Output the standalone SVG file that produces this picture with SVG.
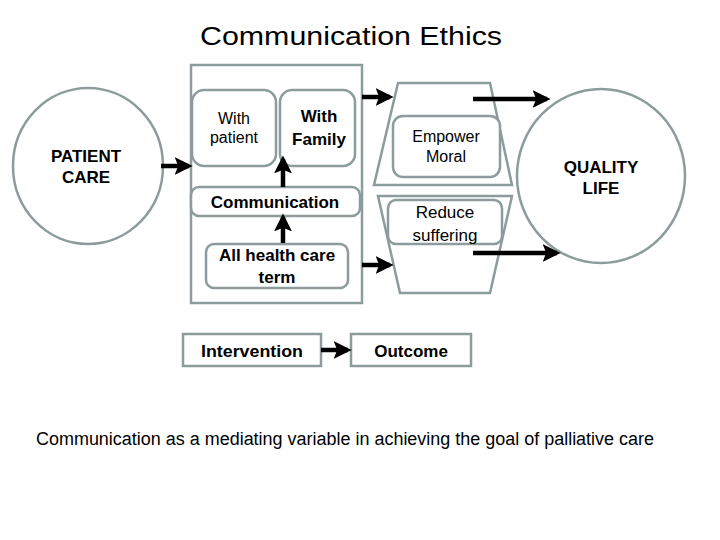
<svg xmlns="http://www.w3.org/2000/svg" width="720" height="540" viewBox="0 0 720 540">
<defs>
<marker id="ah" markerWidth="4" markerHeight="4" refX="3.2" refY="2" orient="auto" markerUnits="strokeWidth"><path d="M0,0 L4,2 L0,4 L0.8,2 Z" fill="#000"/></marker>
<style>
.s{fill:#fff;stroke:#8c9c9c;stroke-width:2.5}
.t{font-family:"Liberation Sans",Arial,sans-serif;fill:#000;text-anchor:middle}
.b{font-weight:bold}
.c{stroke:#000;stroke-width:4.5;fill:none;marker-end:url(#ah)}
</style>
</defs>
<rect width="720" height="540" fill="#fff"/>
<text class="t" x="351" y="45" font-size="26" textLength="302" lengthAdjust="spacingAndGlyphs">Communication Ethics</text>
<g id="patient-care"><ellipse class="s" cx="88" cy="166" rx="75" ry="78"/><text class="t b" x="86" y="162" font-size="17">PATIENT</text><text class="t b" x="86" y="183" font-size="17">CARE</text></g>
<g id="quality-life"><ellipse class="s" cx="601" cy="176" rx="84" ry="87"/><text class="t b" x="601" y="173" font-size="17">QUALITY</text><text class="t b" x="601" y="194" font-size="17">LIFE</text></g>
<g id="comm-panel"><rect class="s" x="191" y="65" width="171" height="238"/></g>
<g id="with-patient"><rect class="s" x="192" y="90" width="84" height="76" rx="12"/><text class="t" x="234" y="124" font-size="16">With</text><text class="t" x="234" y="143" font-size="16">patient</text></g>
<g id="with-family"><rect class="s" x="280" y="90" width="75" height="76" rx="12"/><text class="t b" x="319" y="122" font-size="17">With</text><text class="t b" x="319" y="145" font-size="17">Family</text></g>
<g id="communication"><rect class="s" x="191" y="187" width="169" height="29" rx="8"/><text class="t b" x="275" y="208" font-size="17">Communication</text></g>
<g id="all-health"><rect class="s" x="206" y="244" width="142" height="44" rx="8"/><text class="t b" x="277" y="261" font-size="17">All health care</text><text class="t b" x="277" y="283" font-size="17">term</text></g>
<g id="trap-top"><polygon class="s" points="398,83 490,83 512,185 374,185"/></g>
<g id="trap-bottom"><polygon class="s" points="378,196 512,196 490,293 400,293"/></g>
<g id="empower"><rect class="s" x="393" y="116" width="107" height="61" rx="10"/><text class="t" x="446" y="142" font-size="16">Empower</text><text class="t" x="446" y="162" font-size="16">Moral</text></g>
<g id="reduce"><rect class="s" x="388" y="200" width="114" height="44" rx="8"/><text class="t" x="445" y="218" font-size="17">Reduce</text><text class="t" x="445" y="241" font-size="17">suffering</text></g>
<g id="intervention"><rect class="s" x="183" y="334" width="138" height="32"/><text class="t b" x="252" y="357" font-size="17" textLength="102" lengthAdjust="spacingAndGlyphs">Intervention</text></g>
<g id="outcome"><rect class="s" x="351" y="334" width="120" height="32"/><text class="t b" x="411" y="357" font-size="17">Outcome</text></g>
<g id="connectors">
<line class="c" x1="161" y1="166" x2="189" y2="166"/>
<line class="c" x1="283" y1="187" x2="283" y2="159"/>
<line class="c" x1="283" y1="243" x2="283" y2="217"/>
<line class="c" x1="362" y1="97" x2="390" y2="97"/>
<line class="c" x1="362" y1="265" x2="390" y2="265"/>
<line class="c" x1="473" y1="99" x2="547" y2="99"/>
<line class="c" x1="473" y1="253" x2="557" y2="253"/>
<line class="c" x1="321" y1="350" x2="348" y2="350"/>
</g>
<text class="t" x="345" y="445" font-size="18" textLength="618" lengthAdjust="spacingAndGlyphs">Communication as a mediating variable in achieving the goal of palliative care</text>
</svg>
